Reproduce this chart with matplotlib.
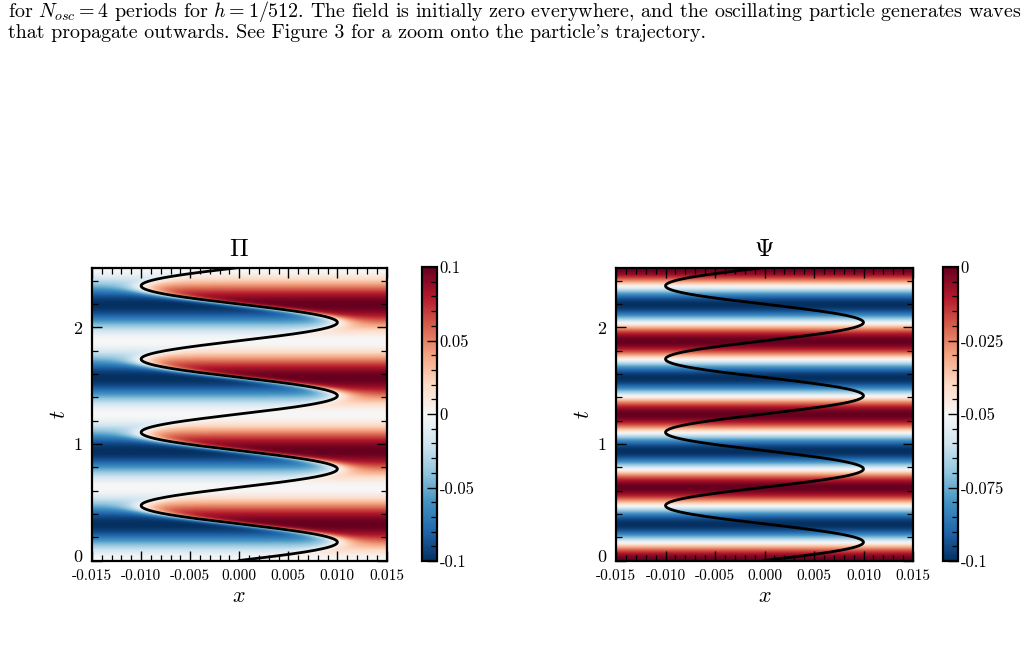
import numpy as np
import matplotlib

matplotlib.use("Agg")
import matplotlib.pyplot as plt
from matplotlib.ticker import FixedLocator, MultipleLocator
from matplotlib.transforms import ScaledTranslation

plt.rcParams.update({
    "font.family": "serif",
    "font.serif": ["cmr10"],
    "mathtext.fontset": "cm",
    "axes.unicode_minus": False,
    "xtick.direction": "in",
    "ytick.direction": "in",
    "xtick.top": True,
    "ytick.right": True,
})

AMP = 0.01          # particle amplitude
OMEGA = 10.0        # angular frequency (period ~0.628)
N_OSC = 4
PI_PEAK = 0.1       # colour limits of the two panels
PSI_LIMS = (-0.1, 0.0)
WALL = 0.002        # width of the sign flip of Pi across the particle

X_TICKS = [-0.015, -0.010, -0.005, 0.000, 0.005, 0.010, 0.015]
X_LABELS = ["-0.015", "-0.010", "-0.005", "0.000", "0.005", "0.010", "0.015"]
T_TICKS = [0, 1, 2]
PI_CB_TICKS = [-0.1, -0.05, 0, 0.05, 0.1]
PI_CB_LABELS = ["-0.1", "-0.05", "0", "0.05", "0.1"]
PSI_CB_TICKS = [-0.1, -0.075, -0.05, -0.025, 0]
PSI_CB_LABELS = ["-0.1", "-0.075", "-0.05", "-0.025", "0"]

CAPTION = [
    r"for $N_{osc} = 4$ periods for $h = 1/512$. The field is initially zero everywhere, "
    r"and the oscillating particle generates waves",
    "that propagate outwards. See Figure 3 for a zoom onto the particle's trajectory.",
]

t_end = N_OSC * 2 * np.pi / OMEGA
x = np.linspace(X_TICKS[0], X_TICKS[-1], 400)
t = np.linspace(0, t_end, 800)
X, T = np.meshgrid(x, t)
xp = AMP * np.sin(OMEGA * t)
env = np.sin(OMEGA * T / 2) ** 2
psi = PSI_LIMS[0] * env
pi_field = PI_PEAK * env * np.tanh((X - xp[:, None]) / WALL)

W, H = 1028, 655
fig = plt.figure(figsize=(W / 100, H / 100), dpi=100)


def box(l, r, top, bot):
    return [l / W, 1 - bot / H, (r - l) / W, (bot - top) / H]


panels = [
    (pi_field, (-PI_PEAK, PI_PEAK), r"$\Pi$", box(92, 386.5, 267.5, 560.5),
     box(422, 437, 267, 561), PI_CB_TICKS, PI_CB_LABELS, 0.01),
    (psi, PSI_LIMS, r"$\Psi$", box(616, 913, 267.5, 560.5),
     box(943, 958, 267, 561), PSI_CB_TICKS, PSI_CB_LABELS, 0.005),
]

for field, lims, title, rect, cbrect, cbt, cbl, cbminor in panels:
    ax = fig.add_axes(rect)
    im = ax.imshow(field, origin="lower", aspect="auto", cmap="RdBu_r",
                   vmin=lims[0], vmax=lims[1],
                   extent=[x[0], x[-1], 0, t_end], interpolation="bilinear")
    ax.plot(xp, t, color="black", lw=2.0)
    ax.set_xlim(x[0], x[-1])
    ax.set_ylim(0, t_end)
    ax.xaxis.set_major_locator(FixedLocator(X_TICKS))
    ax.set_xticklabels(X_LABELS, fontsize=11)
    ax.xaxis.set_minor_locator(MultipleLocator(0.001))
    ax.set_yticks(T_TICKS)
    ax.set_yticklabels([str(v) for v in T_TICKS], fontsize=13)
    ax.yaxis.set_minor_locator(MultipleLocator(0.2))
    ax.tick_params(which="major", length=7, width=1.0)
    ax.tick_params(which="minor", length=4, width=0.9)
    ax.tick_params(axis="x", which="major", pad=6)
    ax.tick_params(axis="y", which="major", pad=7)
    # lift the "0" on the t axis a little so it clears "-0.015"
    zero = ax.get_yticklabels()[0]
    zero.set_transform(zero.get_transform()
                       + ScaledTranslation(0, 3 / 72, fig.dpi_scale_trans))
    for s in ax.spines.values():
        s.set_linewidth(1.6)
    ax.set_xlabel(r"$x$", fontsize=16, labelpad=3)
    ax.set_ylabel(r"$t$", fontsize=16, labelpad=3)
    ax.set_title(title, fontsize=18, pad=8)

    cax = fig.add_axes(cbrect)
    cb = fig.colorbar(im, cax=cax)
    cb.set_ticks(cbt)
    cb.set_ticklabels(cbl, fontsize=12)
    cb.ax.yaxis.set_minor_locator(MultipleLocator(cbminor))
    cb.ax.tick_params(which="major", direction="in", length=7, width=1.0, pad=2)
    cb.ax.tick_params(which="minor", direction="in", length=4, width=0.9)
    cb.outline.set_linewidth(1.6)

for i, line in enumerate(CAPTION):
    fig.text(8 / W, 1 - (12 + 21 * i) / H, line, fontsize=14.4, va="center", ha="left")

fig.savefig("out.png", dpi=100)
